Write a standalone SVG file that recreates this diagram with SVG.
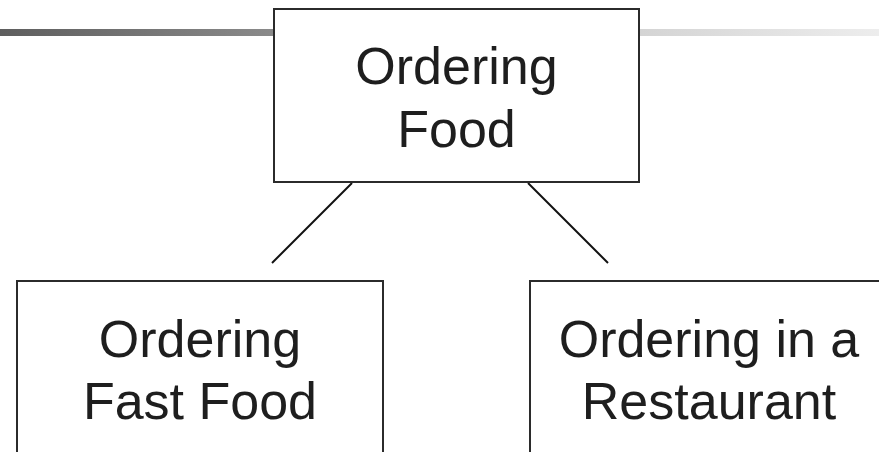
<svg xmlns="http://www.w3.org/2000/svg" width="879" height="452" viewBox="0 0 879 452">
  <defs>
    <linearGradient id="rule" x1="0" y1="0" x2="1" y2="0">
      <stop offset="0" stop-color="#5e5e5e"/>
      <stop offset="0.31" stop-color="#8a8a8a"/>
      <stop offset="0.73" stop-color="#d4d4d4"/>
      <stop offset="1" stop-color="#ededed"/>
    </linearGradient>
  </defs>
  <style>
    .box { fill: #ffffff; stroke: #2b2b2b; stroke-width: 2; }
    .label { font-family: "Liberation Sans", Arial, sans-serif; font-size: 52px; fill: #1e1e1e; text-anchor: middle; }
    .link { stroke: #111111; stroke-width: 2; fill: none; }
  </style>
  <rect width="879" height="452" fill="#ffffff"/>
  <!-- header rule -->
  <rect x="0" y="29" width="879" height="7" fill="url(#rule)"/>

  <g id="connectors">
    <line class="link" x1="352" y1="183" x2="272" y2="263"/>
    <line class="link" x1="528" y1="183" x2="608" y2="263"/>
  </g>

  <g id="ordering-food">
    <rect class="box" x="274" y="9" width="365" height="173"/>
    <text class="label" x="456.5" y="84">Ordering</text>
    <text class="label" x="456.5" y="147">Food</text>
  </g>

  <g id="ordering-fast-food">
    <rect class="box" x="17" y="281" width="366" height="200"/>
    <text class="label" x="200" y="357">Ordering</text>
    <text class="label" x="200" y="419">Fast Food</text>
  </g>

  <g id="ordering-restaurant">
    <rect class="box" x="530" y="281" width="367" height="200"/>
    <text class="label" x="709" y="357">Ordering in a</text>
    <text class="label" x="709" y="419">Restaurant</text>
  </g>
</svg>
